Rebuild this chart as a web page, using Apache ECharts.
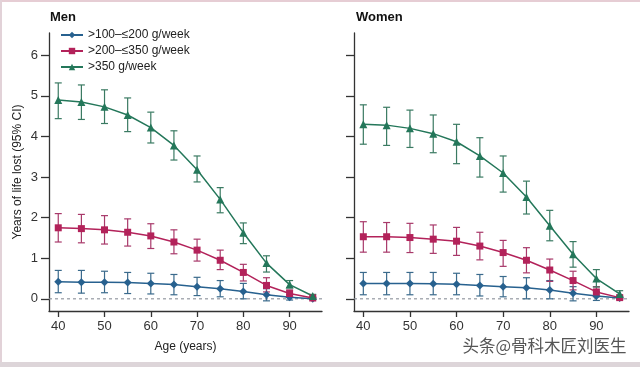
<!DOCTYPE html>
<html><head><meta charset="utf-8">
<script src="https://cdn.jsdelivr.net/npm/echarts@6/dist/echarts.min.js"></script>
<style>html,body{margin:0;padding:0;background:#fff}#c{width:640px;height:367px}</style>
</head><body><div id="c"></div>
<script>
const ages = [40,45,50,55,60,65,70,75,80,85,90,95];
const seriesNames = ['>100–≤200 g/week','>200–≤350 g/week','>350 g/week'];
const yTicks = [0,1,2,3,4,5,6];
const xTicks = [40,50,60,70,80,90];

// Men
const menLowVal = [0.42,0.41,0.41,0.40,0.38,0.35,0.30,0.25,0.18,0.10,0.04,0.00];
const menLowLo  = [0.15,0.14,0.15,0.13,0.12,0.10,0.08,0.05,0.00,-0.05,-0.03,-0.02];
const menLowHi  = [0.70,0.70,0.68,0.65,0.63,0.60,0.53,0.45,0.38,0.25,0.10,0.03];
const menMidVal = [1.75,1.73,1.70,1.64,1.55,1.40,1.20,0.95,0.65,0.33,0.13,0.02];
const menMidLo  = [1.40,1.38,1.35,1.30,1.24,1.11,0.93,0.72,0.44,0.17,0.04,-0.01];
const menMidHi  = [2.10,2.08,2.05,1.97,1.85,1.70,1.47,1.20,0.85,0.52,0.22,0.05];
const menHighVal = [4.90,4.85,4.73,4.53,4.22,3.78,3.18,2.45,1.63,0.88,0.35,0.07];
const menHighLo  = [4.44,4.42,4.32,4.12,3.84,3.42,2.88,2.12,1.36,0.66,0.27,0.03];
const menHighHi  = [5.32,5.27,5.15,4.95,4.60,4.14,3.52,2.74,1.87,1.06,0.45,0.11];

// Women
const womenLowVal = [0.38,0.38,0.38,0.37,0.36,0.33,0.30,0.27,0.22,0.14,0.07,0.02];
const womenLowLo  = [0.10,0.10,0.10,0.10,0.10,0.07,0.05,0.00,0.00,-0.05,-0.04,-0.01];
const womenLowHi  = [0.65,0.65,0.65,0.65,0.63,0.60,0.55,0.52,0.45,0.30,0.18,0.05];
const womenMidVal = [1.53,1.53,1.51,1.47,1.42,1.30,1.14,0.95,0.71,0.45,0.17,0.03];
const womenMidLo  = [1.15,1.15,1.14,1.12,1.07,0.96,0.80,0.64,0.43,0.22,0.05,0.00];
const womenMidHi  = [1.90,1.88,1.86,1.82,1.76,1.64,1.44,1.26,0.98,0.68,0.30,0.07];
const womenHighVal = [4.30,4.28,4.20,4.07,3.87,3.52,3.10,2.51,1.80,1.10,0.50,0.12];
const womenHighLo  = [3.81,3.78,3.73,3.60,3.33,3.00,2.63,2.09,1.43,0.78,0.29,0.05];
const womenHighHi  = [4.78,4.72,4.65,4.53,4.30,3.97,3.52,2.90,2.18,1.41,0.72,0.20];

const colors = ['#27618f','#b3225a','#24775a'];
const barColors = ['#3a6a8c','#a8396a','#3a7a62'];
const symbols = ['diamond','rect','triangle'];
const symSizes = [8,7,8];

const chart = echarts.init(document.getElementById('c'), null, {renderer:'canvas'});
const font = 'Liberation Sans, Arial, sans-serif';

function xAxisCfg(grid, showName){
  return {
    type:'value', gridIndex:grid, min:38, max:97,
    axisLine:{show:true, onZero:false, lineStyle:{color:'#333', width:1.3}},
    axisTick:{show:true, customValues:xTicks, length:6, lineStyle:{color:'#333', width:1.3}},
    axisLabel:{customValues:xTicks, color:'#333', fontSize:13, margin:9, fontFamily:font},
    splitLine:{show:false},
    name: showName ? 'Age (years)' : '', nameLocation:'middle', nameGap:30,
    nameTextStyle:{color:'#222', fontSize:12, fontFamily:font}
  };
}
function yAxisCfg(grid, showLabels){
  return {
    type:'value', gridIndex:grid, min:-0.3, max:6.55,
    axisLine:{show:true, onZero:false, lineStyle:{color:'#333', width:1.3}},
    axisTick:{show:true, customValues:yTicks, length:8, lineStyle:{color:'#333', width:1.3}},
    axisLabel:{show:showLabels, customValues:yTicks, color:'#333', fontSize:13, margin:11, fontFamily:font},
    splitLine:{show:false},
    name: showLabels ? 'Years of life lost (95% CI)' : '', nameLocation:'middle', nameGap:25, nameRotate:90,
    nameTextStyle:{color:'#222', fontSize:12, fontFamily:font}
  };
}

function lineSeries(i, grid, vals){
  return {
    name: seriesNames[i], type:'line', xAxisIndex:grid, yAxisIndex:grid,
    data: ages.map((a,k)=>[a, vals[k]]),
    symbol: symbols[i], symbolSize: symSizes[i], showSymbol:true,
    lineStyle:{color:colors[i], width:1.5},
    itemStyle:{color:colors[i]},
    z:5, silent:true, animation:false
  };
}
function errSeries(i, grid, lo, hi){
  return {
    type:'custom', xAxisIndex:grid, yAxisIndex:grid,
    data: ages.map((a,k)=>[a, lo[k], hi[k]]),
    renderItem: function(params, api){
      const x = api.value(0);
      const p1 = api.coord([x, api.value(1)]);
      const p2 = api.coord([x, api.value(2)]);
      const w = 3.5;
      const st = {stroke: barColors[i], lineWidth:1.2};
      return {type:'group', children:[
        {type:'line', shape:{x1:p1[0],y1:p1[1],x2:p2[0],y2:p2[1]}, style:st},
        {type:'line', shape:{x1:p1[0]-w,y1:p1[1],x2:p1[0]+w,y2:p1[1]}, style:st},
        {type:'line', shape:{x1:p2[0]-w,y1:p2[1],x2:p2[0]+w,y2:p2[1]}, style:st}
      ]};
    },
    z:4, silent:true, animation:false
  };
}
function zeroLine(grid){
  return {
    type:'line', xAxisIndex:grid, yAxisIndex:grid, data:[[38,0],[97,0]],
    symbol:'none', lineStyle:{color:'#8a8f98', width:1.1, type:[3,3]}, z:2, silent:true, animation:false
  };
}

const men = [[menLowVal,menLowLo,menLowHi],[menMidVal,menMidLo,menMidHi],[menHighVal,menHighLo,menHighHi]];
const women = [[womenLowVal,womenLowLo,womenLowHi],[womenMidVal,womenMidLo,womenMidHi],[womenHighVal,womenHighLo,womenHighHi]];

const series = [zeroLine(0), zeroLine(1)];
[men, women].forEach((grp, g)=>{
  grp.forEach((d,i)=>{
    series.push(errSeries(i, g, d[1], d[2]));
    series.push(lineSeries(i, g, d[0]));
  });
});

chart.setOption({
  animation:false,
  backgroundColor:'#fff',
  grid:[
    {left:49, top:33, width:273, height:278},
    {left:354, top:33, width:275, height:278}
  ],
  xAxis:[xAxisCfg(0,true), xAxisCfg(1,false)],
  yAxis:[yAxisCfg(0,true), yAxisCfg(1,false)],
  legend:{
    data: seriesNames, orient:'vertical', left:55, top:24, itemGap:4,
    itemWidth:22, itemHeight:8,
    textStyle:{color:'#222', fontSize:12, fontFamily:font}
  },
  graphic:[
    {type:'rect', shape:{x:0,y:0,width:640,height:2}, style:{fill:'#e6cdd4'}, silent:true},
    {type:'rect', shape:{x:0,y:0,width:2,height:367}, style:{fill:'#e2d2d8'}, silent:true},
    {type:'rect', shape:{x:0,y:362,width:640,height:5}, style:{fill:'#ddd5d9'}, silent:true},
    {type:'text', left:50, top:11, style:{text:'Men', fontSize:13, fontWeight:'bold', fill:'#111', fontFamily:font}},
    {type:'text', left:356, top:11, style:{text:'Women', fontSize:13, fontWeight:'bold', fill:'#111', fontFamily:font}},
    {type:'text', left:462, top:337, style:{text:'头条@骨科木匠刘医生', fontSize:16.5, fill:'#555', stroke:'#fff', lineWidth:1, fontFamily:'Noto Sans CJK SC'}}
  ],
  series: series
});
</script></body></html>
